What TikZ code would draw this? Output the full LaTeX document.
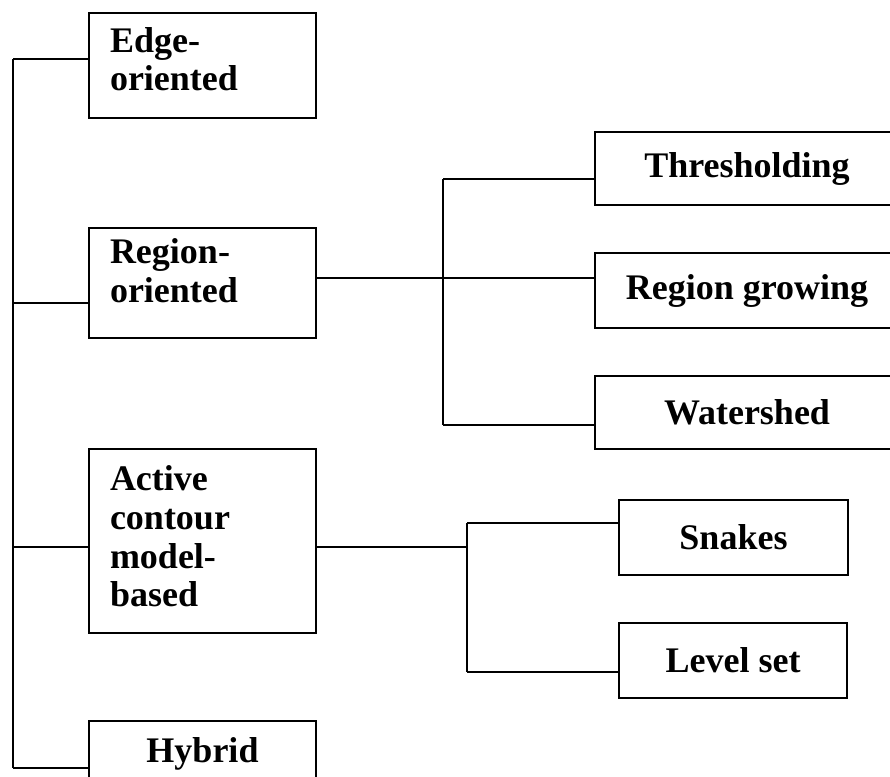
\documentclass[tikz,border=0pt]{standalone}
\usepackage{fontspec}
\setmainfont{Liberation Serif}
\usetikzlibrary{calc}
\tikzset{
	catbox/.style={draw, line width=1pt, rectangle, inner xsep=10.5pt, inner ysep=0pt,
		text width=92.5pt, align=left, font=\bfseries\fontsize{18}{19.3}\selectfont},
	subbox/.style={draw, line width=1pt, rectangle, inner sep=0pt, align=center,
		font=\bfseries\fontsize{18}{19.3}\selectfont},
	link/.style={line width=1pt}
}

\begin{document}
\begin{tikzpicture}[x=0.5pt, y=-0.5pt]
		%%%%% START %%%%%
		\useasboundingbox (0, 0) rectangle (890, 777);
		
		% main classes
		\node[catbox, minimum height=52.5pt, text depth=25.7pt] (edge) at (202.5, 65.5) {Edge-\\oriented};
		\node[catbox, minimum height=55pt, text depth=31.9pt] (region) at (202.5, 283) {Region-\\oriented};
		\node[catbox, minimum height=92pt, text depth=62.5pt] (active) at (202.5, 541) {Active\\contour\\model-\\based};
		\node[catbox, minimum height=32.4pt, align=center] (hybrid) at (202.5, 753.4) {Hybrid};
		
		% region-oriented methods
		\node[subbox, minimum width=152pt, minimum height=36.5pt] (thr) at (747, 168.5) {Thresholding};
		\node[subbox, minimum width=152pt, minimum height=37.5pt] (rgrow) at (747, 290.5) {Region growing};
		\node[subbox, minimum width=152pt, minimum height=36.5pt] (water) at (747, 412.5) {Watershed};
		
		% active contour methods
		\node[subbox, minimum width=114.5pt, minimum height=37.5pt] (snakes) at (733.5, 537.5) {Snakes};
		\node[subbox, minimum width=114pt, minimum height=37.5pt] (level) at (733, 660.5) {Level set};
		
		% trunk on the left
		\coordinate (ta) at (13, 59);
		\coordinate (tb) at (13, 303);
		\coordinate (tc) at (13, 547);
		\coordinate (td) at (13, 768);
		\draw[link] (ta) -- (td);
		\draw[link] (ta) -- (ta -| edge.west);
		\draw[link] (tb) -- (tb -| region.west);
		\draw[link] (tc) -- (tc -| active.west);
		\draw[link] (td) -- (td -| hybrid.west);
		
		% region-oriented branch
		\coordinate (ra) at (443, 179);
		\coordinate (rb) at (443, 278);
		\coordinate (rc) at (443, 425);
		\draw[link] (ra) -- (rc);
		\draw[link] (region.east |- rb) -- (rb -| rgrow.west);
		\draw[link] (ra) -- (ra -| thr.west);
		\draw[link] (rc) -- (rc -| water.west);
		
		% active contour branch
		\coordinate (aa) at (467, 523);
		\coordinate (am) at (467, 547);
		\coordinate (ab) at (467, 672);
		\draw[link] (aa) -- (ab);
		\draw[link] (active.east |- am) -- (am);
		\draw[link] (aa) -- (aa -| snakes.west);
		\draw[link] (ab) -- (ab -| level.west);
		
		%%%%% END %%%%%
	\end{tikzpicture}
\end{document}
